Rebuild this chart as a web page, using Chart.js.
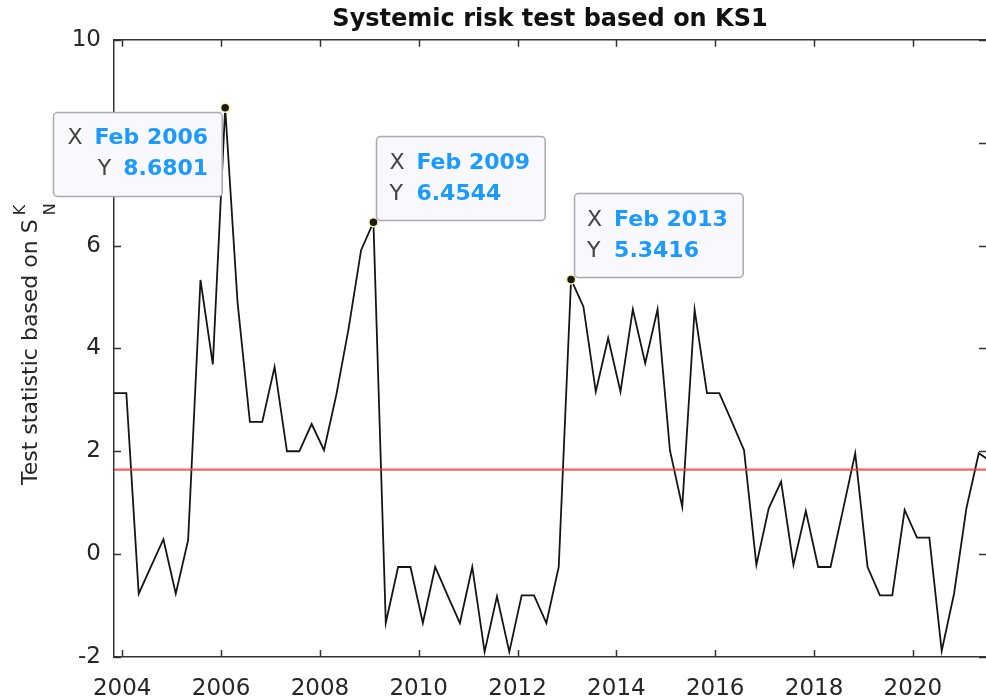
<!DOCTYPE html>
<html>
<head>
<meta charset="utf-8">
<script src="https://cdn.jsdelivr.net/npm/chart.js@4.4.0/dist/chart.umd.min.js"></script>
<style>
  html, body { margin: 0; background: #fff; }
  #wrap { width: 986px; height: 699px; }
</style>
</head>
<body>
<div id="wrap"><canvas id="ksChart"></canvas></div>
<script>
// quarterly observations
const quarters = [
  'Nov 2003',
  'Feb 2004', 'May 2004', 'Aug 2004', 'Nov 2004',
  'Feb 2005', 'May 2005', 'Aug 2005', 'Nov 2005',
  'Feb 2006', 'May 2006', 'Aug 2006', 'Nov 2006',
  'Feb 2007', 'May 2007', 'Aug 2007', 'Nov 2007',
  'Feb 2008', 'May 2008', 'Aug 2008', 'Nov 2008',
  'Feb 2009', 'May 2009', 'Aug 2009', 'Nov 2009',
  'Feb 2010', 'May 2010', 'Aug 2010', 'Nov 2010',
  'Feb 2011', 'May 2011', 'Aug 2011', 'Nov 2011',
  'Feb 2012', 'May 2012', 'Aug 2012', 'Nov 2012',
  'Feb 2013', 'May 2013', 'Aug 2013', 'Nov 2013',
  'Feb 2014', 'May 2014', 'Aug 2014', 'Nov 2014',
  'Feb 2015', 'May 2015', 'Aug 2015', 'Nov 2015',
  'Feb 2016', 'May 2016', 'Aug 2016', 'Nov 2016',
  'Feb 2017', 'May 2017', 'Aug 2017', 'Nov 2017',
  'Feb 2018', 'May 2018', 'Aug 2018', 'Nov 2018',
  'Feb 2019', 'May 2019', 'Aug 2019', 'Nov 2019',
  'Feb 2020', 'May 2020', 'Aug 2020', 'Nov 2020',
  'Feb 2021', 'May 2021', 'Aug 2021'
];

const ks1Values = [
  3.13,
  3.13, -0.77, -0.24, 0.29,
  -0.77, 0.27, 5.33, 3.69,
  8.6801, 4.9, 2.57, 2.57,
  3.64, 2.0, 2.0, 2.53,
  2.02, 3.1, 4.4, 5.91,
  6.4544, -1.34, -0.25, -0.25,
  -1.34, -0.25, -0.8, -1.34,
  -0.25, -1.9, -0.82, -1.9,
  -0.8, -0.8, -1.34, -0.25,
  5.3416, 4.81, 3.16, 4.2,
  3.16, 4.76, 3.71, 4.76,
  2.02, 0.92, 4.75, 3.13,
  3.13, 2.58, 2.02, -0.21,
  0.89, 1.41, -0.21, 0.84,
  -0.25, -0.25, 0.85, 1.96,
  -0.25, -0.8, -0.8, 0.86,
  0.32, 0.32, -1.88, -0.77,
  0.89, 1.96, 1.8
];

const yearTicks = [2004, 2006, 2008, 2010, 2012, 2014, 2016, 2018, 2020];
const valueTicks = [-2, 0, 2, 4, 6, 8, 10];
const criticalValue = 1.645;
const tipDates = ['Feb 2006', 'Feb 2009', 'Feb 2013'];

const monthNames = ['Jan', 'Feb', 'Mar', 'Apr', 'May', 'Jun', 'Jul', 'Aug', 'Sep', 'Oct', 'Nov', 'Dec'];
function toYear(label) {
  const [m, y] = label.split(' ');
  return +y + monthNames.indexOf(m) / 12;
}

const points = quarters.map((q, i) => ({ x: toYear(q), y: ks1Values[i] }));
const tipIdx = tipDates.map(d => quarters.indexOf(d));
const xMin = toYear(quarters[0]);
const xMax = 2021.48;

const FONT = '"DejaVu Sans", sans-serif';

// MATLAB style: box with inward ticks, y label with sub/superscript, data tips
const matlabLook = {
  id: 'matlabLook',
  afterDraw(chart, args, opts) {
    const { ctx, chartArea: a, scales: { x, y } } = chart;
    ctx.save();

    ctx.strokeStyle = '#333';
    ctx.lineWidth = 1.5;
    ctx.beginPath();
    ctx.moveTo(a.left, a.top);
    ctx.lineTo(a.right, a.top);
    yearTicks.forEach(v => {
      const px = Math.round(x.getPixelForValue(v)) + 0.5;
      ctx.moveTo(px, a.bottom); ctx.lineTo(px, a.bottom - 7);
      ctx.moveTo(px, a.top); ctx.lineTo(px, a.top + 7);
    });
    valueTicks.forEach(v => {
      const py = Math.round(y.getPixelForValue(v)) + 0.5;
      ctx.moveTo(a.left, py); ctx.lineTo(a.left + 7, py);
      ctx.moveTo(a.right, py); ctx.lineTo(a.right - 7, py);
    });
    ctx.stroke();

    // y axis title
    ctx.save();
    ctx.translate(37, 485);
    ctx.rotate(-Math.PI / 2);
    ctx.fillStyle = '#262626';
    ctx.textAlign = 'left';
    ctx.textBaseline = 'alphabetic';
    ctx.font = '22px ' + FONT;
    const main = 'Test statistic based on S';
    ctx.fillText(main, 0, 0);
    const w = ctx.measureText(main).width;
    ctx.font = '16px ' + FONT;
    ctx.fillText('K', w + 4, -12);
    ctx.fillText('N', w + 4, 18);
    ctx.restore();

    // data tips
    tipIdx.forEach((idx, n) => {
      const px = x.getPixelForValue(points[idx].x);
      const py = y.getPixelForValue(points[idx].y);
      const xs = quarters[idx];
      const ys = ks1Values[idx].toFixed(4);
      ctx.font = 'bold 22px ' + FONT;
      const vw = Math.max(ctx.measureText(xs).width, ctx.measureText(ys).width);
      const bw = vw + 55, bh = 84;
      const side = opts.sides[n];
      let bx, by;
      if (side === 'left') { bx = px - 3 - bw; by = py + 4; }
      else { bx = px + 3; by = py - 2 - bh; }
      ctx.beginPath();
      ctx.roundRect(Math.round(bx) + 0.5, Math.round(by) + 0.5, bw, bh, 4);
      ctx.fillStyle = '#f8f8fd';
      ctx.fill();
      ctx.strokeStyle = '#a9a9b0';
      ctx.lineWidth = 1.5;
      ctx.stroke();

      [['X', xs, by + 27], ['Y', ys, by + 58]].forEach(([lab, val, cy]) => {
        ctx.textBaseline = 'middle';
        ctx.font = 'bold 22px ' + FONT;
        ctx.fillStyle = '#1b9bff';
        let lx;
        if (side === 'left') {
          ctx.textAlign = 'right';
          const vx = bx + bw - 14;
          ctx.fillText(val, vx, cy);
          lx = vx - ctx.measureText(val).width - 12;
        } else {
          ctx.textAlign = 'left';
          ctx.fillText(val, bx + 40, cy);
          lx = bx + 13;
        }
        ctx.font = '22px ' + FONT;
        ctx.fillStyle = '#444';
        ctx.fillText(lab, lx, cy);
      });
    });

    ctx.restore();
  }
};

const ctx = document.getElementById('ksChart').getContext('2d');
new Chart(ctx, {
  type: 'line',
  data: {
    datasets: [{
      label: 'critical value',
      data: [{ x: xMin, y: criticalValue }, { x: xMax, y: criticalValue }],
      borderColor: 'rgba(240, 60, 60, 0.8)',
      borderWidth: 2.2,
      pointRadius: 0
    }, {
      label: 'KS1',
      data: points,
      borderColor: '#151515',
      borderWidth: 1.8,
      tension: 0,
      pointRadius: c => tipIdx.includes(c.dataIndex) ? 4.5 : 0,
      pointBackgroundColor: '#1a1a1a',
      pointBorderColor: '#f6f6a8',
      pointBorderWidth: 1.5
    }]
  },
  options: {
    responsive: true,
    maintainAspectRatio: false,
    animation: false,
    devicePixelRatio: 1,
    layout: { padding: 0 },
    plugins: {
      legend: { display: false },
      tooltip: { enabled: false },
      title: {
        display: true,
        fullSize: false,
        text: 'Systemic risk test based on KS1',
        color: '#111',
        font: { family: FONT, size: 24, weight: 'bold', lineHeight: 1.2 },
        padding: { top: 5, bottom: 6 }
      },
      matlabLook: { sides: ['left', 'right', 'right'] }
    },
    scales: {
      x: {
        type: 'linear',
        min: xMin,
        max: xMax,
        afterBuildTicks: s => { s.ticks = yearTicks.map(v => ({ value: v })); },
        afterFit: s => { s.height = 42; },
        grid: { display: false, drawTicks: false },
        border: { display: true, color: '#333', width: 1.5 },
        ticks: {
          padding: 18,
          color: '#262626',
          maxRotation: 0,
          font: { family: FONT, size: 23 },
          callback: v => String(v)
        }
      },
      y: {
        min: -2,
        max: 10,
        afterBuildTicks: s => { s.ticks = valueTicks.map(v => ({ value: v })); },
        afterFit: s => { s.width = 114; },
        grid: { display: false, drawTicks: false },
        border: { display: true, color: '#333', width: 1.5 },
        ticks: {
          padding: 13,
          color: '#262626',
          font: { family: FONT, size: 23 },
          callback: v => String(v)
        }
      }
    }
  },
  plugins: [matlabLook]
});
</script>
</body>
</html>
